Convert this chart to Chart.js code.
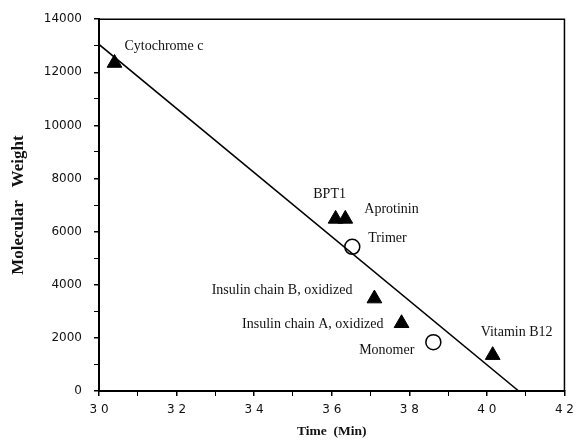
<!DOCTYPE html>
<html>
<head>
<meta charset="utf-8">
<script src="https://cdn.jsdelivr.net/npm/chart.js@4"></script>
<style>
  html, body { margin: 0; padding: 0; background: #fff; }
  #wrap { width: 581px; height: 443px; }
</style>
</head>
<body>
<div id="wrap"><canvas id="myChart"></canvas></div>
<script>
// standards (triangles)
const standardNames = ['Cytochrome c', 'BPT1', 'Aprotinin', 'Insulin chain B, oxidized', 'Insulin chain A, oxidized', 'Vitamin B12'];
const standardTimes = [30.4, 36.1, 36.35, 37.1, 37.8, 40.15];
const standardWeights = [12350, 6480, 6480, 3480, 2550, 1350];

// sample (open circles)
const sampleNames = ['Trimer', 'Monomer'];
const sampleTimes = [36.53, 38.62];
const sampleWeights = [5430, 1840];

// calibration line
const fitTimes = [30, 40.82];
const fitWeights = [13050, 0];

// label placement relative to the point, in px: [dx, dy, align]
const standardLabelPos = [[10, -17, 'left'], [-6, -25, 'center'], [19, -10, 'left'], [-22, -8, 'right'], [-18, 1, 'right'], [-12, -23, 'left']];
const sampleLabelPos = [[16, -8, 'left'], [-19, 8, 'right']];

function toPoints(xs, ys) {
    return xs.map((x, i) => ({x: x, y: ys[i]}));
}

const pointLabels = {
    id: 'pointLabels',
    afterDatasetsDraw(chart) {
        const ctx = chart.ctx;
        const xs = chart.scales.x, ys = chart.scales.y;
        ctx.save();
        ctx.font = '14px "Liberation Serif"';
        ctx.fillStyle = '#111';
        ctx.textBaseline = 'middle';
        const put = (names, tx, wy, pos) => {
            names.forEach((n, i) => {
                ctx.textAlign = pos[i][2];
                ctx.fillText(n, xs.getPixelForValue(tx[i]) + pos[i][0], ys.getPixelForValue(wy[i]) + pos[i][1]);
            });
        };
        put(standardNames, standardTimes, standardWeights, standardLabelPos);
        put(sampleNames, sampleTimes, sampleWeights, sampleLabelPos);
        ctx.restore();
    },
    afterDraw(chart) {
        const ctx = chart.ctx, a = chart.chartArea;
        ctx.save();
        ctx.strokeStyle = '#000';
        ctx.lineWidth = 1.5;
        ctx.beginPath();
        ctx.moveTo(a.left, a.top);
        ctx.lineTo(a.right, a.top);
        ctx.lineTo(a.right, a.bottom);
        ctx.stroke();
        ctx.restore();
    }
};

const ctx = document.getElementById('myChart');

new Chart(ctx, {
    type: 'scatter',
    data: {
        datasets: [{
            data: toPoints(fitTimes, fitWeights),
            showLine: true,
            borderColor: '#000',
            borderWidth: 1.5,
            pointRadius: 0
        }, {
            data: toPoints(standardTimes, standardWeights),
            pointStyle: 'triangle',
            pointRadius: 8.5,
            backgroundColor: '#000',
            borderColor: '#000',
            borderWidth: 1
        }, {
            data: toPoints(sampleTimes, sampleWeights),
            pointStyle: 'circle',
            pointRadius: 7.5,
            backgroundColor: '#fff',
            borderColor: '#000',
            borderWidth: 1.5
        }]
    },
    options: {
        responsive: true,
        maintainAspectRatio: false,
        animation: false,
        layout: { padding: { top: 17, right: 12, left: 0, bottom: 0 } },
        plugins: {
            legend: { display: false },
            tooltip: { enabled: false }
        },
        scales: {
            x: {
                type: 'linear',
                min: 30,
                max: 42,
                afterFit: s => { s.height = 52; },
                border: { display: true, color: '#000', width: 2 },
                grid: { drawOnChartArea: false, drawTicks: true, tickLength: 5, color: '#000',
                        lineWidth: c => (c.tick && c.tick.value % 2 === 0 ? 1.5 : 1) },
                ticks: {
                    stepSize: 1,
                    autoSkip: false,
                    maxRotation: 0,
                    padding: 7,
                    color: '#111',
                    font: { family: 'DejaVu Sans', size: 12 },
                    callback: v => (v % 2 === 0 ? String(v).split('').join(' ') : '')
                },
                title: {
                    display: true,
                    text: 'Time  (Min)',
                    color: '#111',
                    font: { family: 'Liberation Serif', size: 13.5, weight: 'bold' },
                    padding: { top: 0, bottom: 3 }
                }
            },
            y: {
                min: 0,
                max: 14000,
                afterFit: s => { s.width = 99; },
                border: { display: true, color: '#000', width: 2 },
                grid: { drawOnChartArea: false, drawTicks: true, tickLength: 5, color: '#000',
                        lineWidth: c => (c.tick && c.tick.value % 2000 === 0 ? 1.5 : 1) },
                ticks: {
                    stepSize: 1000,
                    autoSkip: false,
                    padding: 12,
                    color: '#111',
                    font: { family: 'DejaVu Sans', size: 12 },
                    callback: v => (v % 2000 === 0 ? v : '')
                },
                title: {
                    display: true,
                    text: 'Molecular   Weight',
                    color: '#111',
                    font: { family: 'Liberation Serif', size: 17, weight: 'bold' },
                    padding: { top: 8, bottom: 0 }
                }
            }
        }
    },
    plugins: [pointLabels]
});
</script>
</body>
</html>
